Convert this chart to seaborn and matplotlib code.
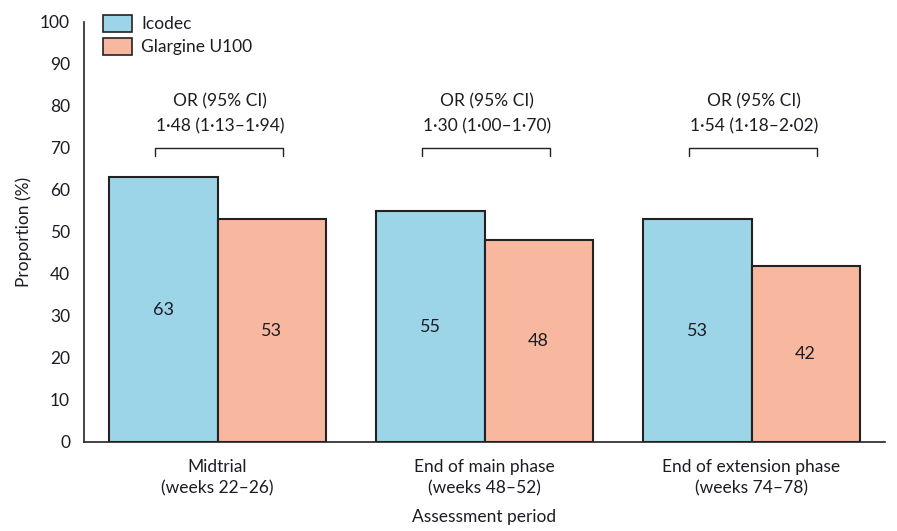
import matplotlib
matplotlib.use("Agg")
import matplotlib.pyplot as plt
import seaborn as sns
import pandas as pd
import numpy as np
from matplotlib.patches import Patch

periods = ["Midtrial\n(weeks 22–26)", "End of main phase\n(weeks 48–52)", "End of extension phase\n(weeks 74–78)"]
groups = ["Icodec", "Glargine U100"]
icodec = [63, 55, 53]
glargine = [53, 48, 42]
or_texts = ["1·48 (1·13–1·94)", "1·30 (1·00–1·70)", "1·54 (1·18–2·02)"]
yticks = list(range(0, 101, 10))

sns.set_style("white")
plt.rcParams['font.family'] = ['Lato', 'DejaVu Sans']
TXT = "#1c1c24"

df = pd.DataFrame({
    "period": periods * 2,
    "group": [groups[0]] * 3 + [groups[1]] * 3,
    "value": icodec + glargine,
})

fig = plt.figure(figsize=(8.97, 5.31), dpi=100)
ax = fig.add_axes([84 / 897, 1 - 442 / 531, (885 - 84) / 897, (442 - 22) / 531])

palette = {"Icodec": "#9dd5e8", "Glargine U100": "#f8b89f"}
sns.barplot(data=df, x="period", y="value", hue="group", order=periods, hue_order=groups,
            palette=palette, width=0.81, edgecolor="#222222", linewidth=1.5, saturation=1,
            ax=ax, legend=False)

# value labels inside bars
for cont in ax.containers:
    for rect in cont:
        h = rect.get_height()
        ax.text(rect.get_x() + rect.get_width() / 2, h / 2, f"{h:.0f}", ha="center", va="center",
                fontsize=13, color=TXT)

# OR brackets
for i, txt in enumerate(or_texts):
    x0, x1 = i - 0.235, i + 0.245
    ax.plot([x0, x0, x1, x1], [68.2, 70, 70, 68.2], color="#222222", lw=1.0, clip_on=False)
    ax.text(i + 0.01, 81, "OR (95% CI)", ha="center", va="center", fontsize=12.5, color=TXT)
    ax.text(i + 0.01, 75.2, txt, ha="center", va="center", fontsize=12.5, color=TXT)

ax.set_xlim(-0.5, 2.5)
ax.set_ylim(0, 100)
ax.set_yticks(yticks)
ax.set_yticklabels([str(t) for t in yticks], fontsize=12.5, color=TXT)
ax.set_xticks([0, 1, 2])
ax.set_xticklabels(periods, fontsize=12.5, color=TXT, linespacing=1.45)
ax.set_xticks([-0.5, 0.5, 1.5, 2.5], minor=True)
ax.tick_params(axis="x", which="major", length=0, pad=12)
ax.tick_params(axis="x", which="minor", length=8, width=1.2, color="#222222", direction="out")
ax.tick_params(axis="y", length=6, width=1.2, color="#222222", direction="out", pad=4)

for s in ["top", "right"]:
    ax.spines[s].set_visible(False)
for s in ["left", "bottom"]:
    ax.spines[s].set_color("#222222")
    ax.spines[s].set_linewidth(1.2)

ax.set_ylabel("Proportion (%)", fontsize=12.5, color=TXT, labelpad=6)
ax.set_xlabel("Assessment period", fontsize=12.5, color=TXT, labelpad=9)

handles = [Patch(facecolor=palette[g], edgecolor="#222222", linewidth=1.2, label=g) for g in groups]
leg = fig.legend(handles=handles, loc="upper left", bbox_to_anchor=(96 / 897, 1 - 8 / 531),
                 frameon=False, fontsize=12.5, handlelength=1.7, handleheight=1.1,
                 handletextpad=0.5, labelspacing=0.35, borderaxespad=0)
for t in leg.get_texts():
    t.set_color(TXT)

fig.savefig("out.png", dpi=100)
